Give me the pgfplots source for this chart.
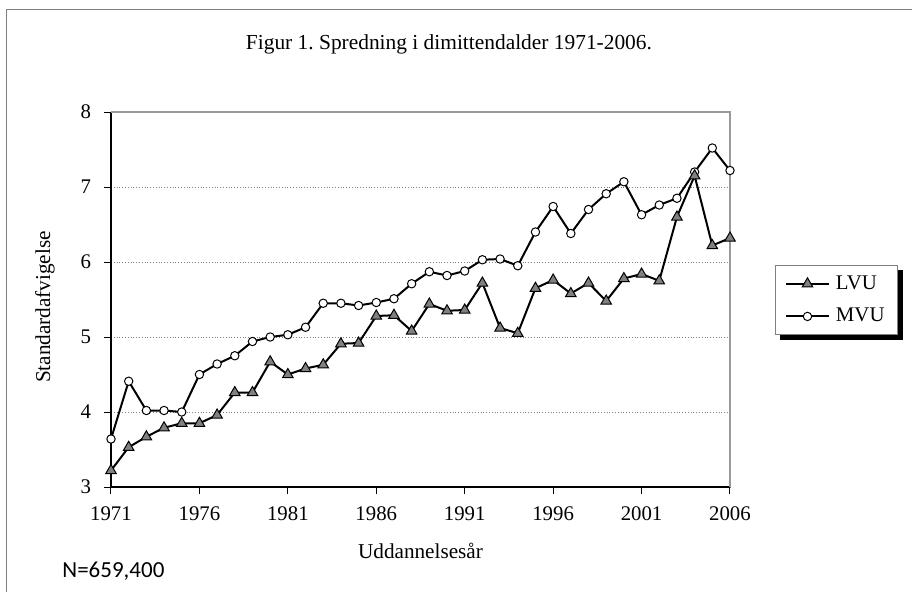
\documentclass[border=0pt]{standalone}
\usepackage{pgfplots}
\pgfplotsset{compat=1.18}
\usepackage{pgfplotstable}
\usepackage{fontspec}
\setmainfont{Liberation Serif}
\newfontfamily\calibri{Carlito}
\pgfdeclarelayer{background}
\pgfsetlayers{background,main}
\frenchspacing
\pgfplotstableread{
year LVU MVU
1971 3.22 3.64
1972 3.53 4.41
1973 3.67 4.02
1974 3.79 4.02
1975 3.85 4.00
1976 3.85 4.50
1977 3.96 4.64
1978 4.26 4.75
1979 4.26 4.94
1980 4.67 5.00
1981 4.50 5.03
1982 4.58 5.13
1983 4.63 5.45
1984 4.91 5.45
1985 4.92 5.42
1986 5.28 5.46
1987 5.29 5.51
1988 5.08 5.71
1989 5.44 5.87
1990 5.35 5.82
1991 5.36 5.88
1992 5.72 6.03
1993 5.12 6.04
1994 5.05 5.95
1995 5.65 6.40
1996 5.76 6.74
1997 5.58 6.38
1998 5.72 6.70
1999 5.48 6.91
2000 5.78 7.07
2001 5.84 6.63
2002 5.75 6.76
2003 6.60 6.85
2004 7.15 7.20
2005 6.22 7.52
2006 6.32 7.22
}\datatable
\begin{document}
\begin{tikzpicture}
\useasboundingbox (-55.5pt,-52pt) rectangle (400.5pt,243.5pt);
\draw[gray, line width=0.75pt] (-52.25pt,-60pt) -- (-52.25pt,238.75pt) -- (410pt,238.75pt);
\begin{axis}[
  at={(0pt,0pt)}, anchor=south west,
  scale only axis, width=309.5pt, height=187.5pt,
  xmin=1971, xmax=2006, ymin=3, ymax=8,
  axis lines=left, axis line style={-, line width=0.75pt, black},
  xtick={1971,1976,...,2006}, ytick={3,4,...,8},
  tick style={black, line width=0.5pt}, tick align=outside, major tick length=3.5pt,
  ymajorgrids, major grid style={gray, densely dotted, line width=0.4pt},
  clip=false,
  ticklabel style={font=\fontsize{10.4}{12}\selectfont},
  xticklabel style={yshift=-3pt},
  yticklabel style={xshift=-3pt},
  /pgf/number format/assume math mode=true,
  /pgf/number format/1000 sep={},
  xlabel={Uddannelsesår}, ylabel={Standardafvigelse},
  label style={font=\fontsize{10.6}{12}\selectfont},
  xlabel style={at={(axis description cs:0.5,-0.1707)}, anchor=center},
  ylabel style={at={(axis description cs:-0.1066,0.48)}, anchor=center},
  title={Figur 1. Spredning i dimittendalder 1971-2006.},
  every axis title shift=0pt,
  title style={at={(axis description cs:0.546,1.1813)}, anchor=center, font=\fontsize{10.7}{12}\selectfont},
  reverse legend,
  legend style={name=leg, at={(axis description cs:1.0735,0.592)}, anchor=north west,
    draw=gray, line width=0.5pt, fill=white,
    font=\fontsize{10.4}{12}\selectfont,
    inner xsep=4.5pt, inner ysep=3pt, row sep=4pt, column sep=1pt,
    cells={anchor=west}},
  legend image code/.code={\draw[mark repeat=2,mark phase=2,#1] plot coordinates {(0pt,0pt) (10.75pt,0pt) (21.5pt,0pt)};},
]
\draw[gray!80, line width=0.75pt] (rel axis cs:0,1) -- (rel axis cs:1,1) -- (rel axis cs:1,0);
\addplot[black, line width=1pt, mark=*, mark size=2.1pt,
  mark options={fill=white, draw=black, line width=0.5pt}] table[x=year, y=MVU] {\datatable};
\addlegendentry{MVU}
\addplot[black, line width=1pt, mark=triangle*, mark size=3pt,
  mark options={fill=gray, draw=black, line width=0.5pt}] table[x=year, y=LVU] {\datatable};
\addlegendentry{LVU}
\end{axis}
\begin{pgfonlayer}{background}
\fill[black] ([shift={(2.5pt,-2.5pt)}]leg.south west) rectangle ([shift={(2.5pt,-2.5pt)}]leg.north east);
\end{pgfonlayer}
\node[anchor=west, font=\calibri\fontsize{11.5}{13}\selectfont, inner sep=0pt] at (-24.5pt,-42pt) {N=659,400};
\end{tikzpicture}
\end{document}
